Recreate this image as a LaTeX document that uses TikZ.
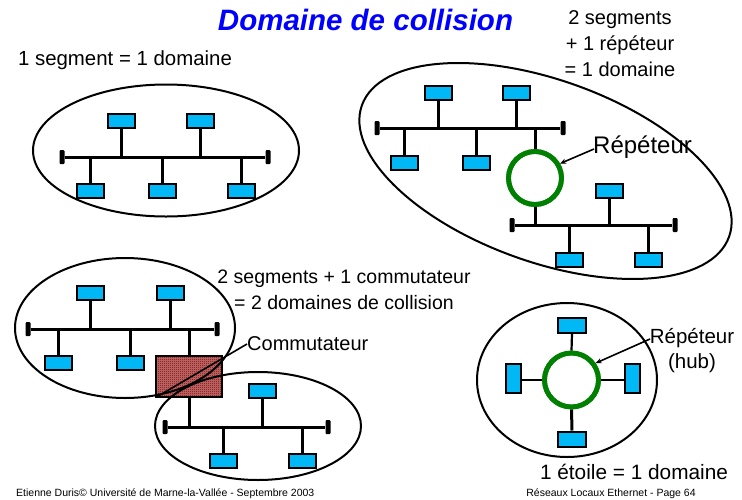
\documentclass[tikz,border=0pt]{standalone}
\usepackage{fontspec}
\setmainfont{Liberation Sans}
\usetikzlibrary{arrows.meta,patterns}
\pgfdeclarepatternformonly{finechecker}{\pgfqpoint{0pt}{0pt}}{\pgfqpoint{2pt}{2pt}}{\pgfqpoint{2pt}{2pt}}{%
  \pgfpathrectangle{\pgfqpoint{0pt}{0pt}}{\pgfqpoint{1pt}{1pt}}%
  \pgfpathrectangle{\pgfqpoint{1pt}{1pt}}{\pgfqpoint{1pt}{1pt}}%
  \pgfusepath{fill}}
\definecolor{stcyan}{RGB}{0,184,245}
\definecolor{hubgreen}{RGB}{0,128,0}
\definecolor{titleblue}{RGB}{0,0,255}
\definecolor{swred}{RGB}{130,0,0}
\definecolor{swmid}{RGB}{190,110,110}
\tikzset{
  station/.style={draw=black,line width=2pt,fill=stcyan,minimum width=27pt,minimum height=14pt,inner sep=0pt},
  vstation/.style={station,minimum width=15pt,minimum height=29pt},
  endcap/.style={fill=black,rounded corners=1pt,minimum width=5pt,minimum height=14pt,inner sep=0pt},
  busline/.style={line width=3pt},
  dropline/.style={line width=3pt},
  domainline/.style={line width=2pt},
  hubring/.style={draw=hubgreen,line width=4.8pt},
  callout/.style={line width=1.6pt,-{Stealth[length=6pt,width=5pt]}},
  lbl/.style={inner sep=0pt,align=center},
}
\begin{document}
\begin{tikzpicture}[x=1pt,y=-1pt]
\useasboundingbox (0,0) rectangle (742,499);

% ---------- Top-left: 1 segment ----------
\node[endcap] (aL) at (62,157) {};
\node[endcap] (aR) at (268,157) {};
\draw[busline] (aL) -- (aR);
\node[station] (a1) at (121,120.5) {};
\node[station] (a2) at (200,120.5) {};
\node[station] (a3) at (90,191) {};
\node[station] (a4) at (162,191) {};
\node[station] (a5) at (241,191) {};
\foreach \s in {a1,a2} \draw[dropline] (\s.south) -- (\s.south |- aL.center);
\foreach \s in {a3,a4,a5} \draw[dropline] (\s.north) -- (\s.north |- aL.center);
\foreach \p in {(121,120.5),(200,120.5),(90,191),(162,191),(241,191)} \node[station] at \p {};
\coordinate (eA) at (166,150.5);
\draw[domainline] (eA) ellipse [x radius=133, y radius=66];

% ---------- Top-right: 2 segments + repeater ----------
\node[endcap] (bL) at (377,128) {};
\node[endcap] (bR) at (563,128) {};
\draw[busline] (bL) -- (bR);
\node[endcap] (cL) at (512,225) {};
\node[endcap] (cR) at (675,225) {};
\draw[busline] (cL) -- (cR);
\node[circle,hubring,minimum size=53pt,inner sep=0pt] (rep) at (535,178) {};
\coordinate (repTop) at (535,128);
\coordinate (repBot) at (535,225);
\draw[dropline] (rep.north) -- (repTop);
\draw[dropline] (rep.south) -- (repBot);
\node[station] (b1) at (438,93) {};
\node[station] (b2) at (516,93) {};
\node[station] (b3) at (404.5,163) {};
\node[station] (b4) at (476,163) {};
\node[station] (c1) at (609,190.5) {};
\node[station] (c2) at (569.5,260) {};
\node[station] (c3) at (648,260) {};
\foreach \s in {b1,b2} \draw[dropline] (\s.south) -- (\s.south |- bL.center);
\foreach \s in {b3,b4} \draw[dropline] (\s.north) -- (\s.north |- bL.center);
\draw[dropline] (c1.south) -- (c1.south |- cL.center);
\foreach \s in {c2,c3} \draw[dropline] (\s.north) -- (\s.north |- cL.center);
\foreach \p in {(438,93),(516,93),(404.5,163),(476,163),(609,190.5),(569.5,260),(648,260)} \node[station] at \p {};
\node[circle,hubring,minimum size=53pt,inner sep=0pt] at (535,178) {};
\coordinate (eB) at (545.5,171);
\draw[domainline,rotate around={-19.7:(eB)}] (eB) ellipse [x radius=195, y radius=91];
\node[lbl,anchor=west,font=\fontsize{24}{28}\selectfont] (repl) at (593,147) {Répéteur};
\coordinate (rs) at (594,149);
\draw[callout] (rs) -- (rep.30);

% ---------- Bottom-left: 2 segments + switch ----------
\node[endcap] (dL) at (28,329) {};
\node[endcap] (dR) at (217,329) {};
\draw[busline] (dL) -- (dR);
\node[endcap] (fL) at (165,427) {};
\node[endcap] (fR) at (328,427) {};
\draw[busline] (fL) -- (fR);
\node[draw=black,line width=1.6pt,minimum width=66pt,minimum height=41pt,inner sep=0pt] (sw) at (189,376.5) {};
\draw[dropline] (sw.north) -- (sw.north |- dL.center);
\draw[dropline] (sw.south) -- (sw.south |- fL.center);
\node[station] (d1) at (90.5,293) {};
\node[station] (d2) at (170,293) {};
\node[station] (d3) at (58.5,363) {};
\node[station] (d4) at (130,363) {};
\node[station] (f1) at (262,391) {};
\node[station] (f2) at (223,461) {};
\node[station] (f3) at (302,461) {};
\foreach \s in {d1,d2} \draw[dropline] (\s.south) -- (\s.south |- dL.center);
\foreach \s in {d3,d4} \draw[dropline] (\s.north) -- (\s.north |- dL.center);
\draw[dropline] (f1.south) -- (f1.south |- fL.center);
\foreach \s in {f2,f3} \draw[dropline] (\s.north) -- (\s.north |- fL.center);
\foreach \p in {(90.5,293),(170,293),(58.5,363),(130,363),(262,391),(223,461),(302,461)} \node[station] at \p {};
\node[draw=black,line width=1.6pt,minimum width=66pt,minimum height=41pt,inner sep=0pt,
      preaction={fill=swmid},pattern=finechecker,pattern color=swred] at (189,376.5) {};
\coordinate (eD) at (125,328);
\coordinate (eF) at (258,426);
\draw[domainline] (eD) ellipse [x radius=110, y radius=70];
\draw[domainline] (eF) ellipse [x radius=103, y radius=54];
\node[lbl,font=\fontsize{19.5}{26}\selectfont] (t3) at (344,290) {2 segments + 1 commutateur\\= 2 domaines de collision};
\node[lbl,anchor=west,font=\fontsize{20}{24}\selectfont] (swl) at (247,344) {Commutateur};
\draw[callout] (swl.west) -- (sw.south west);

% ---------- Bottom-right: star ----------
\node[circle,hubring,minimum size=54pt,inner sep=0pt] (hub) at (571.5,380) {};
\node[station,minimum width=28pt,minimum height=15pt] (g1) at (572,325.5) {};
\node[station,minimum width=28pt,minimum height=15pt] (g2) at (572,439) {};
\node[vstation] (g3) at (513.5,378.5) {};
\node[vstation] (g4) at (632,378.5) {};
\draw[dropline,line width=2.2pt] (g1.south) -- (hub.north);
\draw[dropline] (g2.north) -- (hub.south);
\draw[dropline,line width=2.2pt] (g3.east |- hub.center) -- (hub.west);
\draw[dropline,line width=2.2pt] (g4.west |- hub.center) -- (hub.east);
\node[station,minimum width=28pt,minimum height=15pt] at (572,325.5) {};
\node[station,minimum width=28pt,minimum height=15pt] at (572,439) {};
\node[vstation] at (513.5,378.5) {};
\node[vstation] at (632,378.5) {};
\node[circle,hubring,minimum size=54pt,inner sep=0pt] at (571.5,380) {};
\coordinate (eG) at (567,380);
\draw[domainline] (eG) ellipse [x radius=90, y radius=77];
\node[lbl,font=\fontsize{20.5}{25}\selectfont] (hubl) at (692,351) {Répéteur\\(hub)};
\coordinate (hs) at (650,339);
\draw[callout] (hs) -- (hub.35);
\node[lbl,font=\fontsize{20.8}{24}\selectfont] (t4) at (634,472) {1 étoile = 1 domaine};

% ---------- Texts ----------
\node[lbl,font=\fontsize{29.5}{34}\selectfont\bfseries\itshape,text=titleblue] (title) at (365.5,20) {Domaine de collision};
\node[lbl,font=\fontsize{20.4}{24}\selectfont] (t1) at (125,60) {1 segment = 1 domaine};
\node[lbl,font=\fontsize{20}{26}\selectfont] (t2) at (620,44) {2 segments\\+ 1 répéteur\\= 1 domaine};
\node[lbl,anchor=west,font=\fontsize{10.5}{13}\selectfont] (fl) at (16,493.5) {Etienne Duris© Université de Marne-la-Vallée - Septembre 2003};
\node[lbl,font=\fontsize{10.5}{13}\selectfont] (fr) at (611,493.5) {Réseaux Locaux Ethernet - Page 64};
\end{tikzpicture}
\end{document}
